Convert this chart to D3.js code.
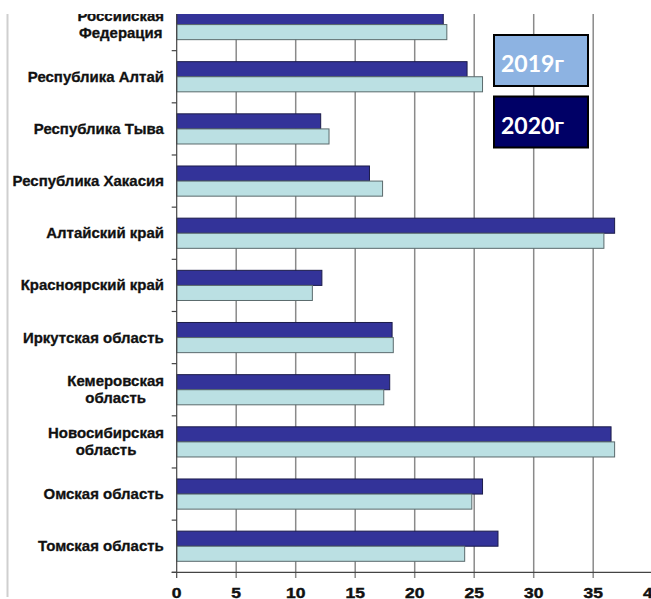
<!DOCTYPE html>
<html>
    <head>
        <meta charset="UTF-8"/>
        <style>
            body { margin: 0; background: #fff; }
        </style>
    </head>
    <body>
        <script src="https://d3js.org/d3.v7.min.js" type="text/javascript"></script>
        <script>
        let width = 651;
        let height = 599;

        // regions, top to bottom
        let regions = [
            ["Российская", "Федерация"],
            ["Республика Алтай"],
            ["Республика Тыва"],
            ["Республика Хакасия"],
            ["Алтайский край"],
            ["Красноярский край"],
            ["Иркутская область"],
            ["Кемеровская", "область"],
            ["Новосибирская", "область"],
            ["Омская область"],
            ["Томская область"]
        ];
        let values2020 = [22.4, 24.4, 12.1, 16.2, 36.8, 12.2, 18.1, 17.9, 36.5, 25.7, 27.0];
        let values2019 = [22.7, 25.7, 12.8, 17.3, 35.9, 11.4, 18.2, 17.4, 36.8, 24.8, 24.2];
        let xTicks = [0, 5, 10, 15, 20, 25, 30, 35, 40];
        let legendLabels = ["2019г", "2020г"];

        let keys = regions.map(function(d) { return d.join(" "); });

        let x = d3.scaleLinear().domain([0, 40]).range([176.7, 652.7]);
        let y = d3.scaleBand().domain(keys).range([-1.5, 572.3]);
        let inner = d3.scaleBand().domain(["2020", "2019"])
            .range([11, y.bandwidth() - 11]);

        let svg = d3.select("body")
            .append("svg")
            .attr("width", width)
            .attr("height", height);

        svg.append("defs").append("clipPath")
            .attr("id", "crop")
            .append("rect")
            .attr("x", 0).attr("y", 14)
            .attr("width", width).attr("height", height - 14);

        let chart = svg.append("g").attr("clip-path", "url(#crop)");

        // left frame line
        chart.append("line")
            .attr("x1", 7.5).attr("x2", 7.5)
            .attr("y1", 0).attr("y2", 597)
            .attr("stroke", "#cfcfcf")
            .attr("stroke-width", 2);

        // vertical grid lines (with ticks below axis)
        chart.selectAll(".grid")
            .data(xTicks.slice(1))
            .enter()
            .append("line")
            .attr("x1", function(d) { return x(d); })
            .attr("x2", function(d) { return x(d); })
            .attr("y1", 0)
            .attr("y2", 578)
            .attr("stroke", "#8a8a8a")
            .attr("stroke-width", 1.5);

        let rows = regions.map(function(d, i) {
            return {key: keys[i], v2020: values2020[i], v2019: values2019[i]};
        });

        // 2020 bars
        chart.selectAll(".bar2020")
            .data(rows)
            .enter()
            .append("rect")
            .attr("x", x(0))
            .attr("y", function(d) { return y(d.key) + inner("2020"); })
            .attr("width", function(d) { return x(d.v2020) - x(0); })
            .attr("height", inner.bandwidth())
            .attr("fill", "#333399")
            .attr("stroke", "#1c1c4a")
            .attr("stroke-width", 1);

        // 2019 bars
        chart.selectAll(".bar2019")
            .data(rows)
            .enter()
            .append("rect")
            .attr("x", x(0))
            .attr("y", function(d) { return y(d.key) + inner("2019"); })
            .attr("width", function(d) { return x(d.v2019) - x(0); })
            .attr("height", inner.bandwidth())
            .attr("fill", "#bbe0e3")
            .attr("stroke", "#5a6a6c")
            .attr("stroke-width", 1);

        // y axis line and ticks
        chart.append("line")
            .attr("x1", x(0)).attr("x2", x(0))
            .attr("y1", 0).attr("y2", 578)
            .attr("stroke", "#444")
            .attr("stroke-width", 1.2);
        let bounds = keys.map(function(k) { return y(k); }).concat([y.range()[1]]);
        chart.selectAll(".ytick")
            .data(bounds)
            .enter()
            .append("line")
            .attr("x1", x(0) - 5).attr("x2", x(0))
            .attr("y1", function(d) { return d; })
            .attr("y2", function(d) { return d; })
            .attr("stroke", "#444")
            .attr("stroke-width", 1.2);

        // x axis line
        chart.append("line")
            .attr("x1", x(0) - 5).attr("x2", width)
            .attr("y1", y.range()[1]).attr("y2", y.range()[1])
            .attr("stroke", "#444")
            .attr("stroke-width", 1.2);

        // x tick labels (wide, heavy look of the original)
        chart.selectAll(".xlabel")
            .data(xTicks)
            .enter()
            .append("text")
            .attr("transform", function(d) { return "translate(" + x(d) + ",597.5) scale(1.25,1)"; })
            .attr("text-anchor", "middle")
            .attr("font-family", "Liberation Sans, Arial, sans-serif")
            .attr("font-weight", "bold")
            .attr("font-size", "14px")
            .attr("fill", "#111")
            .attr("stroke", "#111")
            .attr("stroke-width", 0.4)
            .text(function(d) { return d; });

        // category labels
        chart.selectAll(".ylabel")
            .data(regions)
            .enter()
            .append("text")
            .attr("font-family", "Liberation Sans, Arial, sans-serif")
            .attr("font-weight", "bold")
            .attr("font-size", "14px")
            .attr("fill", "#111")
            .attr("stroke", "#111")
            .attr("stroke-width", 0.3)
            .attr("text-anchor", "middle")
            .each(function(d, i) {
                let t = d3.select(this);
                let cy = y(keys[i]) + y.bandwidth() / 2;
                d.forEach(function(line, j) {
                    t.append("tspan")
                        .attr("x", 0)
                        .attr("y", cy + 5 + (j - (d.length - 1) / 2) * 17)
                        .text(line);
                });
                let w = this.getBBox().width * 1.07;
                t.attr("transform", "translate(" + (164 - w / 2) + ",0) scale(1.07,1)");
            });

        // legend boxes
        let legendColors = ["#8db3e2", "#000066"];
        let legend = svg.selectAll(".legend")
            .data(legendLabels)
            .enter()
            .append("g")
            .attr("transform", function(d, i) { return "translate(494," + (35 + i * 61.5) + ")"; });
        legend.append("rect")
            .attr("width", 94)
            .attr("height", 51)
            .attr("fill", function(d, i) { return legendColors[i]; })
            .attr("stroke", "#000")
            .attr("stroke-width", 2);
        legend.append("text")
            .attr("x", 7)
            .attr("y", 37)
            .attr("font-family", "Lato, sans-serif")
            .attr("font-weight", "bold")
            .attr("font-size", "23px")
            .attr("fill", "#fff")
            .text(function(d) { return d; });
        </script>
    </body>
</html>
